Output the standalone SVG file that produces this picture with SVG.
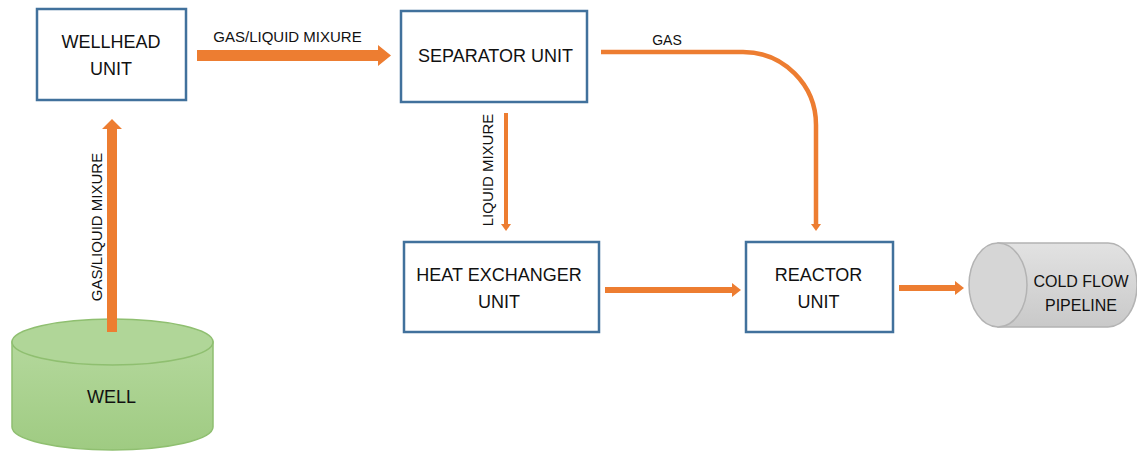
<svg xmlns="http://www.w3.org/2000/svg" width="1137" height="454" viewBox="0 0 1137 454">
<style>
.box{fill:#fff;stroke:#41719C;stroke-width:2.5}
.t{font-family:"Liberation Sans",Arial,sans-serif;fill:#111;text-anchor:middle}
.big{font-size:18px}
.lab{font-size:15px}
.fl{fill:#ED7D31}
.ln{fill:none;stroke:#ED7D31}
</style>
<defs>
<linearGradient id="gw" x1="0" y1="0" x2="0" y2="1"><stop offset="0" stop-color="#b4d89c"/><stop offset="1" stop-color="#9fcb82"/></linearGradient>
<linearGradient id="gp" x1="0" y1="0" x2="0" y2="1"><stop offset="0" stop-color="#e2e2e2"/><stop offset="1" stop-color="#c9c9c9"/></linearGradient>
</defs>
<rect width="1137" height="454" fill="#fff"/>
<g id="well">
<path d="M12,342 V427 A100.5,23 0 0 0 213,427 V342 Z" fill="url(#gw)" stroke="#8fbf70" stroke-width="1.5"/>
<ellipse cx="112.5" cy="342" rx="100.5" ry="23" fill="#b0d698" stroke="#8fbf70" stroke-width="1.5"/>
<text class="t big" x="111.5" y="403">WELL</text>
</g>
<g id="wellhead">
<rect class="box" x="37" y="9" width="149" height="91"/>
<text class="t big" x="111" y="48">WELLHEAD</text>
<text class="t big" x="111" y="75">UNIT</text>
</g>
<g id="separator">
<rect class="box" x="401" y="11" width="186" height="91"/>
<text class="t big" x="495.5" y="62">SEPARATOR UNIT</text>
</g>
<g id="heatexchanger">
<rect class="box" x="404" y="242" width="195" height="90"/>
<text class="t big" x="499" y="281">HEAT EXCHANGER</text>
<text class="t big" x="499" y="308">UNIT</text>
</g>
<g id="reactor">
<rect class="box" x="746" y="242" width="147" height="90"/>
<text class="t big" x="818.5" y="281">REACTOR</text>
<text class="t big" x="818.5" y="308">UNIT</text>
</g>
<g id="pipeline">
<path d="M998,243 H1108 A29,42 0 0 1 1108,327 H998 Z" fill="url(#gp)" stroke="#b3b3b3" stroke-width="1.5"/>
<ellipse cx="998" cy="285" rx="29" ry="42" fill="#d6d6d6" stroke="#b3b3b3" stroke-width="1.5"/>
<text class="t" font-size="16" x="1081" y="287">COLD FLOW</text>
<text class="t" font-size="16" x="1081" y="311">PIPELINE</text>
</g>
<g id="connectors">
<polygon class="fl" points="107,332 107,129 102,129 112,119 122,129 117,129 117,332"/>
<text class="t lab" transform="translate(102,227) rotate(-90)">GAS/LIQUID MIXURE</text>
<polygon class="fl" points="197,50 378,50 378,45 391,55.5 378,66 378,61 197,61"/>
<text class="t lab" x="287.5" y="42">GAS/LIQUID MIXURE</text>
<path class="ln" stroke-width="4.5" d="M601,52 H743 A73,73 0 0 1 816,125 V225"/>
<polygon class="fl" points="811,224 821,224 816,231"/>
<text class="t" font-size="14" x="667" y="45">GAS</text>
<path class="ln" stroke-width="4" d="M506,113 V225"/>
<polygon class="fl" points="501,224 511,224 506,231"/>
<text class="t lab" transform="translate(493,170) rotate(-90)">LIQUID MIXURE</text>
<path class="ln" stroke-width="6" d="M605,290 H734"/>
<polygon class="fl" points="732,283 741,290 732,297"/>
<path class="ln" stroke-width="6" d="M899,288 H957"/>
<polygon class="fl" points="955,281 964,288 955,295"/>
</g>
</svg>
